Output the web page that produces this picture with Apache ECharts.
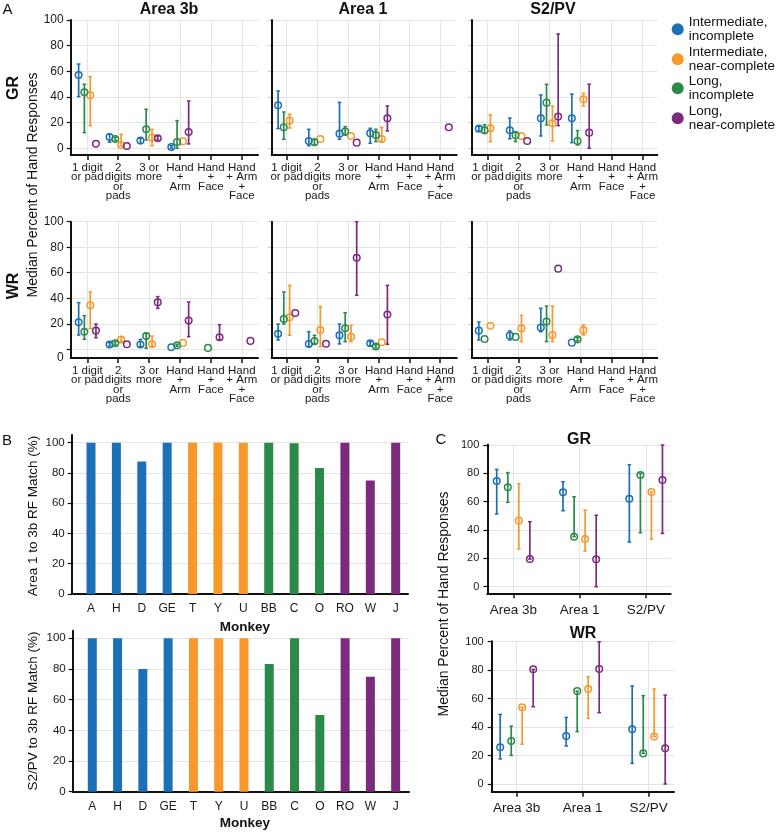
<!DOCTYPE html>
<html><head><meta charset="utf-8">
<script src="https://cdn.jsdelivr.net/npm/echarts@6/dist/echarts.min.js"></script>
<style>html,body{margin:0;padding:0;background:#fff}#c{width:779px;height:834px}</style>
</head><body><div id="c"></div>
<script>
// ---------- DATA ----------
const groupNames = ['Intermediate,\nincomplete', 'Intermediate,\nnear-complete', 'Long,\nincomplete', 'Long,\nnear-complete'];
const contactCats = ['1 digit\nor pad', '2\ndigits\nor\npads', '3 or\nmore', 'Hand\n+\nArm', 'Hand\n+\nFace', 'Hand\n+ Arm\n+\nFace'];
const areaCats = ['Area 3b', 'Area 1', 'S2/PV'];
const yTickStep = 20;

// Panel A, entries per contact category: [median, low, high] (or [median] with no bar)
const gr3b_intInc   = [[57.1,40.3,65.7],[8.8,4.7,10.9],[6,3.9,7.8],[1,0,2],null,null];
const gr3b_intNear  = [[41.3,17.7,55.8],[2.6,1.8,10.9],[8.3,2,14.8],[5.5],null,null];
const gr3b_longInc  = [[43.6,12.2,49.9],[7.3,6,8.6],[14.8,6.5,30.4],[4.9,0,21.6],null,null];
const gr3b_longNear = [[3.6],[1.8],[7.8,6.5,9.6],[12.7,3.4,36.9],null,null];

const gr1_intInc    = [[33.5,15.3,44.7],[5.7,2,14.8],[11.4,7,35.8],[11.7,3.9,15.6],null,null];
const gr1_intNear   = [[21.6,15.8,26.5],[7.3],[9.6],[7.3,5.2,16.4],null,null];
const gr1_longInc   = [[16.4,7,28.3],[4.7,2.6,7],[13,10.4,16.9],[10.4,5.2,14.8],null,null];
const gr1_longNear  = [null,null,[4.4],[23.4,13.5,33],null,[16.4]];

const grS2_intInc   = [[15.3,13.5,17.1],[14,7.5,23.6],[23.4,9.6,41.6],[23.4,4.4,42.3],null,null];
const grS2_intNear  = [[15.6,5.2,26],[9.6],[19.5,5.7,33],[38.2,33,42.9],null,null];
const grS2_longInc  = [[14,11.7,18.4],[10.1,5.2,13],[35.6,18.2,49.9],[5.7,2.6,13.8],null,null];
const grS2_longNear = [null,[5.7],[24.7,17.7,89.1],[12.2,0,49.9],null,null];

const wr3b_intInc   = [[21.2,11.2,36.6],[3.8,2.6,5.2],[3.8,2.1,7.8],[1.6],null,null];
const wr3b_intNear  = [[34.5,16.2,44.9],[7.6,6,9.9],[4,2.1,10.4],[5],null,null];
const wr3b_longInc  = [[13.8,7.8,26.4],[4.7,3.5,5.8],[10.4,0.8,12.5],[3.2,2.3,4],[1.1],null];
const wr3b_longNear = [[14.6,9.1,19.8],[4],[36.8,32.1,41.3],[22.5,9.9,37.1],[9.4,7.3,19.3],[6.6]];

const wr1_intInc    = [[12.1,7.3,19.8],[4.2,2.1,13.8],[11,4.2,19.8],[4.7,2.9,6],null,null];
const wr1_intNear   = [[25.1,11,50.1],[15.1,2.1,33.4],[9.8,6,18.8],[5.5],null,null];
const wr1_longInc   = [[23.8,19.8,44.9],[6.4,4.2,11],[16.5,6,28.7],[2.2,1,3.5],null,null];
const wr1_longNear  = [[28.4],[4.3],[71.8,42.3,100],[27.3,3.9,50.1],null,null];

const wrS2_intInc   = [[14.6,7.3,21.4],[10.7,7.3,14.4],[17,13.8,32.1],[5.2],null,null];
const wrS2_intNear  = [[18.5],[16.4,6,26.6],[11.2,6,33.9],[15.1,11.2,19.1],null,null];
const wrS2_longInc  = [[8.1],[9.7],[21.7,6,33.9],[7.8,6.5,9.2],null,null];
const wrS2_longNear = [null,null,[63.2],null,null,null];

// Panel B
const monkeys = ['A','H','D','GE','T','Y','U','BB','C','O','RO','W','J'];
const monkeyGroup = [0,0,0,0,1,1,1,2,2,2,3,3,3];
const area1Match = [100,100,87.5,100,100,100,100,100,99.6,83.3,100,75,100];
const s2pvMatch  = [100,100,80,100,100,100,100,83.3,100,50,100,75,100];

// Panel C, entries per area: [median, low, high]
const cGR_intInc   = [[74.6,51.3,82.8],[66.6,53.6,74.1],[62.1,31.5,86.1]];
const cGR_intNear  = [[46.6,26.6,72.7],[33.6,25.2,54.1],[66.8,33.6,66.8]];
const cGR_longInc  = [[70.1,59.5,80.5],[35.3,35.3,63.5],[78.8,38.1,80]];
const cGR_longNear = [[19.5,19.5,45.9],[19.3,0,50.4],[75.3,37.6,100]];
const cWR_intInc   = [[25.8,17.6,48.9],[33.7,26.7,46.8],[38.4,14.5,68.9]];
const cWR_intNear  = [[53.9,27.9,53.9],[66.7,46.1,75.4],[33.3,33.3,66.7]];
const cWR_longInc  = [[30.2,20.1,40.7],[65.3,36.8,65.3],[21.5,21.5,62.1]];
const cWR_longNear = [[80.6,54.3,80.6],[80.8,50.1,100],[25.1,0,62.5]];

// ---------- STYLE / LAYOUT ----------
const FONT = 'Liberation Sans, Arial, Helvetica, sans-serif';
const groupColors = ['#1c70b8', '#f8982b', '#2a8a47', '#7c2a7f'];
const GRID_C = '#e4e4e4';
const AX_C = '#111';

const grids = [], xAxes = [], yAxes = [], series = [];

function addPanel(p) {
  const k = (p.y0 - p.y100) / 100;
  const iF = grids.length;
  grids.push({left: p.fx0, top: p.ft, width: p.fx1 - p.fx0, height: p.fb - p.ft});
  xAxes.push({type: 'value', gridIndex: iF, min: (p.fx0 - p.c0) / p.s, max: (p.fx1 - p.c0) / p.s, z: 4,
    axisLine: {show: true, onZero: false, lineStyle: {color: AX_C, width: 2}},
    axisTick: {show: false}, axisLabel: {show: false}, splitLine: {show: false}});
  yAxes.push({type: 'value', gridIndex: iF, min: -(p.fb - p.y0) / k, max: 100 + (p.y100 - p.ft) / k, z: 4,
    axisLine: {show: true, onZero: false, lineStyle: {color: AX_C, width: 2}},
    axisTick: {show: false}, axisLabel: {show: false}, splitLine: {show: false}});
  const iG = grids.length;
  grids.push({left: p.fx0, top: p.y100, width: p.fx1 - p.fx0, height: p.y0 - p.y100});
  xAxes.push({type: 'value', gridIndex: iG, show: false});
  const lab = {show: p.yLabels, margin: p.yMargin, fontSize: p.yFont, color: '#1a1a1a', fontFamily: FONT};
  if (p.zeroShift) {
    lab.formatter = v => v === 0 ? '{z|0}' : String(v);
    lab.rich = {z: {fontSize: p.yFont, color: '#1a1a1a', fontFamily: FONT, padding: [p.zeroShift * 2, 0, 0, 0]}};
  }
  yAxes.push({type: 'value', gridIndex: iG, min: 0, max: 100, interval: yTickStep, z: 1,
    axisLine: {show: false},
    axisTick: {show: true, length: 4, lineStyle: {color: p.tickColor, width: 1.2}},
    axisLabel: lab,
    splitLine: {show: true, lineStyle: {color: GRID_C, width: 1}}});
  const iH = grids.length;
  grids.push({left: p.c0, top: p.ft, width: (p.cats.length - 1) * p.s, height: p.fb - p.ft});
  xAxes.push({type: 'category', gridIndex: iH, data: p.cats, boundaryGap: false, z: 1,
    axisLine: {show: false},
    axisTick: {show: p.xTicks, interval: 0, length: 5, lineStyle: {color: AX_C, width: 1.5}},
    axisLabel: {interval: 0, margin: p.xMargin, fontSize: p.xFont, lineHeight: p.xLine, color: '#1a1a1a', fontFamily: FONT},
    splitLine: {show: p.vSplit, interval: 0, lineStyle: {color: GRID_C, width: 1}}});
  yAxes.push({type: 'value', gridIndex: iH, show: false});
  return iF;
}

function renderErr(params, api) {
  const x = api.value(0), med = api.value(1), lo = api.value(2), hi = api.value(3);
  const color = api.visual('color');
  const c = api.coord([x, med]);
  const children = [];
  if (hi - lo > 0.01) {
    const a = api.coord([x, lo]), b = api.coord([x, hi]);
    const cw = 1.8;
    children.push({type: 'line', shape: {x1: a[0], y1: a[1], x2: b[0], y2: b[1]}, style: {stroke: color, lineWidth: 1.7}});
    children.push({type: 'line', shape: {x1: a[0] - cw, y1: a[1], x2: a[0] + cw, y2: a[1]}, style: {stroke: color, lineWidth: 1.5}});
    children.push({type: 'line', shape: {x1: b[0] - cw, y1: b[1], x2: b[0] + cw, y2: b[1]}, style: {stroke: color, lineWidth: 1.5}});
  }
  children.push({type: 'circle', shape: {cx: c[0], cy: c[1], r: 3.3}, style: {fill: 'none', stroke: color, lineWidth: 1.5}});
  return {type: 'group', children};
}

function addErr(axisIdx, arrs, dodge) {
  arrs.forEach((arr, g) => {
    const data = [];
    arr.forEach((v, ci) => {
      if (!v) return;
      const med = v[0];
      const lo = v.length > 1 ? v[1] : med;
      const hi = v.length > 2 ? v[2] : med;
      data.push([ci + dodge[g], med, lo, hi]);
    });
    series.push({type: 'custom', name: groupNames[g], xAxisIndex: axisIdx, yAxisIndex: axisIdx,
      renderItem: renderErr, itemStyle: {color: groupColors[g]}, encode: {x: 0, y: [1, 2, 3]},
      data, z: 5, clip: false, silent: true});
  });
}

// group order [intInc, intNear, longInc, longNear]; plotted order blue, green, orange, purple
const dodgeA = [-0.28, 0.095, -0.095, 0.28];
const dodgeC = [-0.25, 0.083, -0.083, 0.25];

const colsA = [
  {fx0: 70.7, fx1: 258, c0: 87.3, s: 30.9, yLabels: true, tickColor: AX_C},
  {fx0: 271.7, fx1: 456.7, c0: 286.7, s: 30.7, yLabels: false, tickColor: '#cfcfcf'},
  {fx0: 472, fx1: 657.3, c0: 487.5, s: 31.0, yLabels: false, tickColor: '#cfcfcf'}
];
const rowsA = [
  {ft: 20, y100: 20, y0: 148.3, fb: 155},
  {ft: 221.7, y100: 221.7, y0: 349.3, fb: 358}
];
const dataA = [
  [[gr3b_intInc, gr3b_intNear, gr3b_longInc, gr3b_longNear],
   [gr1_intInc, gr1_intNear, gr1_longInc, gr1_longNear],
   [grS2_intInc, grS2_intNear, grS2_longInc, grS2_longNear]],
  [[wr3b_intInc, wr3b_intNear, wr3b_longInc, wr3b_longNear],
   [wr1_intInc, wr1_intNear, wr1_longInc, wr1_longNear],
   [wrS2_intInc, wrS2_intNear, wrS2_longInc, wrS2_longNear]]
];
rowsA.forEach((r, ri) => {
  colsA.forEach((c, ci) => {
    const idx = addPanel(Object.assign({}, r, c, {cats: contactCats, xTicks: true, vSplit: true,
      xFont: 11.5, xLine: 9.5, xMargin: 8, yFont: 12, yMargin: 7,
      zeroShift: (ri === 1 && ci === 0) ? 8 : 0}));
    addErr(idx, dataA[ri][ci], dodgeA);
  });
});

// Panel B
function addBars(p, values) {
  const idx = addPanel(Object.assign({}, p, {cats: monkeys, xTicks: false, vSplit: false,
    xFont: 12, xLine: 12, xMargin: 9, yFont: 11.5, yMargin: 7, yLabels: true, tickColor: AX_C}));
  series.push({type: 'bar', xAxisIndex: idx, yAxisIndex: idx, barWidth: 9, z: 5, silent: true,
    data: values.map((v, i) => ({value: [i, v], itemStyle: {color: groupColors[monkeyGroup[i]]}}))});
}
addBars({fx0: 71.7, fx1: 408, ft: 435, fb: 594, y100: 442.7, y0: 594, c0: 91, s: 25.39}, area1Match);
addBars({fx0: 72.7, fx1: 409, ft: 630.7, fb: 791.7, y100: 638.3, y0: 791.7, c0: 92.3, s: 25.28}, s2pvMatch);

// Panel C
const cGR = addPanel({fx0: 487.3, fx1: 670.7, ft: 444.5, fb: 593.3, y100: 445, y0: 586.7, c0: 513.3, s: 66.3,
  cats: areaCats, xTicks: true, vSplit: true, xFont: 13.5, xLine: 14, xMargin: 10, yFont: 11, yMargin: 8, yLabels: true, tickColor: AX_C});
addErr(cGR, [cGR_intInc, cGR_intNear, cGR_longInc, cGR_longNear], dodgeC);
const cWR = addPanel({fx0: 491.7, fx1: 674, ft: 641.2, fb: 791.7, y100: 641.7, y0: 784, c0: 516.7, s: 66,
  cats: areaCats, xTicks: true, vSplit: true, xFont: 13.5, xLine: 14, xMargin: 10, yFont: 11, yMargin: 8, yLabels: true, tickColor: AX_C});
addErr(cWR, [cWR_intInc, cWR_intNear, cWR_longInc, cWR_longNear], dodgeC);

// Legends (one per group, icon aligned with first text line)
const legendTops = [8.3, 38.3, 67.3, 97.3];
const legends = groupNames.map((n, g) => ({
  data: [{name: n, icon: 'circle', itemStyle: {color: groupColors[g], borderWidth: 0}}],
  left: 671.7, top: legendTops[g], itemWidth: 12, itemHeight: 12, itemGap: 0, padding: 0,
  selectedMode: false,
  textStyle: {fontSize: 13.5, lineHeight: 14, color: '#111', fontFamily: FONT, padding: [14, 0, 0, 0]}
}));

function T(x, y, text, size, bold, rot) {
  return {type: 'text', x, y, rotation: rot ? Math.PI / 2 : 0, z: 10, silent: true,
    style: {text, fontSize: size, fontWeight: bold ? 'bold' : 'normal', fill: '#111', fontFamily: FONT,
      align: 'center', verticalAlign: 'middle'}};
}
const graphics = [
  T(7.5, 10, 'A', 15), T(7, 440.5, 'B', 15), T(441, 439.5, 'C', 15),
  T(169, 10, 'Area 3b', 16, true), T(363, 10, 'Area 1', 16, true), T(553, 10, 'S2/PV', 16, true),
  T(14, 88, 'GR', 16, true, true), T(14, 286, 'WR', 16, true, true),
  T(33, 185, 'Median Percent of Hand Responses', 14, false, true),
  T(33, 516, 'Area 1 to 3b RF Match (%)', 13.5, false, true),
  T(33, 711, 'S2/PV to 3b RF Match (%)', 13.5, false, true),
  T(245, 627, 'Monkey', 13.5, true), T(245, 823.5, 'Monkey', 13.5, true),
  T(579, 440, 'GR', 16, true), T(583, 634, 'WR', 16, true),
  T(444, 604, 'Median Percent of Hand Responses', 14, false, true)
];

const chart = echarts.init(document.getElementById('c'), null, {renderer: 'canvas'});
chart.setOption({
  animation: false,
  backgroundColor: '#fff',
  textStyle: {fontFamily: FONT},
  grid: grids, xAxis: xAxes, yAxis: yAxes, series,
  legend: legends,
  graphic: graphics
});
</script></body></html>
